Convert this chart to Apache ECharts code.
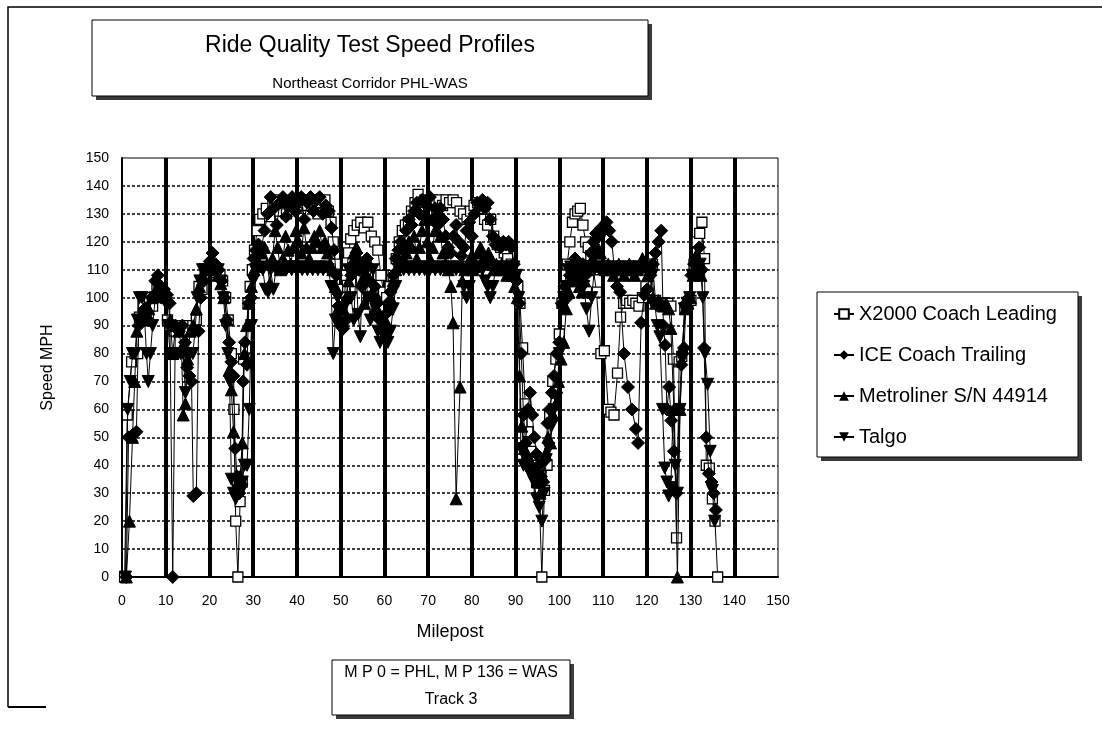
<!DOCTYPE html>
<html>
<head>
<meta charset="utf-8">
<script src="https://cdn.jsdelivr.net/npm/echarts@6/dist/echarts.min.js"></script>
<style>
html,body{margin:0;padding:0;background:#fff;}
#chart{width:1102px;height:736px;}
</style>
</head>
<body>
<div id="chart"></div>
<script>
// ---- data: [milepost, speed mph] ----
const seriesNames = ['X2000 Coach Leading', 'ICE Coach Trailing', 'Metroliner S/N 44914', 'Talgo'];

const x2000 = [[0.6,0],[1.2,58],[2.2,77],[3,80],[3.6,80],[4,93],[4.8,97],[5.5,94],[6.3,100],[7,97],[8,104],[9,102],[9.8,100],[10.4,92],[11,90],[12,88],[12.8,90],[13.6,89],[14.5,90],[15.3,88],[16.2,90],[17,92],[17.6,104],[18.3,103],[19,110],[20,111],[20.8,110],[21.6,109],[22.4,108],[23,106],[23.7,100],[24.3,92],[25,80],[25.6,60],[26,20],[26.5,0],[27,27],[27.5,34],[27.8,78],[28.3,82],[28.8,98],[29.3,104],[29.8,110],[30.3,117],[30.9,124],[31.5,128],[32.2,130],[33,132],[33.8,129],[34.5,133],[35.3,135],[36,131],[36.8,134],[37.6,130],[38.4,133],[39.2,135],[40,132],[40.8,134],[41.6,135],[42.4,133],[43.2,135],[44,134],[44.8,130],[45.6,134],[46.4,135],[47.2,131],[47.8,127],[48.3,120],[48.8,112],[49.3,103],[49.8,95],[50.3,92],[50.8,100],[51.3,108],[51.8,116],[52.3,121],[53,124],[53.8,126],[54.6,127],[55.4,125],[56.2,127],[57,122],[57.8,120],[58.5,117],[59.2,108],[59.8,102],[60.5,100],[61.3,104],[62,108],[62.7,114],[63.4,120],[64.1,124],[64.8,126],[65.5,127],[66.2,131],[67,134],[67.7,137],[68.5,134],[69.3,135],[70.1,133],[70.9,135],[71.7,134],[72.5,135],[73.3,133],[74.1,135],[74.9,134],[75.7,135],[76.5,134],[77.3,131],[78.1,130],[78.9,128],[79.7,131],[80.5,133],[81.3,134],[82.1,132],[82.9,128],[83.6,126],[84.3,128],[85,122],[85.8,119],[86.6,118],[87.4,116],[88.2,114],[89,112],[89.8,108],[90.5,104],[91,98],[91.6,82],[92.2,62],[92.8,52],[93.5,45],[94.2,40],[94.8,34],[95.4,30],[96,0],[96.6,31],[97.2,40],[97.8,58],[98.5,70],[99.2,78],[100,87],[100.6,98],[101.2,104],[101.8,112],[102.4,120],[103,127],[103.6,130],[104.2,131],[104.8,132],[105.4,126],[106,120],[106.6,118],[107.2,115],[107.8,110],[108.5,102],[109.5,80],[110.3,81],[111.2,60],[111.8,59],[112.5,58],[113.3,73],[114,93],[114.7,98],[115.4,99],[116.1,98],[116.8,99],[117.5,98],[118.2,97],[119,100],[119.8,104],[120.5,110],[121.3,112],[122,99],[122.7,98],[123.4,97],[124.1,98],[124.8,98],[125.5,97],[126.1,78],[126.8,14],[127.4,77],[128,79],[128.7,96],[129.4,98],[130.1,99],[130.8,112],[131.5,120],[132.1,123],[132.6,127],[133.2,114],[133.6,40],[134.3,39],[135,28],[135.6,20],[136.2,0]];

const ice = [[1.0,0],[1.5,50],[2.5,51],[3.3,52],[3.8,90],[4.5,92],[5.2,96],[6,92],[6.8,100],[7.6,106],[8.2,108],[8.9,104],[9.6,103],[10.3,101],[10.9,98],[11.6,0],[12.2,90],[13,88],[13.8,90],[14.4,84],[14.9,75],[15.4,72],[15.9,70],[16.3,29],[17,30],[17.5,88],[18,100],[18.7,106],[19.4,110],[20.1,113],[20.7,116],[21.4,112],[22.1,110],[22.8,106],[23.4,100],[24,92],[24.5,84],[25,77],[25.5,72],[25.9,46],[26.3,36],[26.8,30],[27.3,33],[27.7,70],[28.1,84],[28.6,76],[29,98],[29.5,100],[30.1,114],[30.6,117],[31.2,119],[31.9,118],[32.6,124],[33.3,130],[34,136],[34.7,132],[35.4,126],[36.1,134],[36.8,136],[37.5,129],[38.2,133],[38.9,136],[39.6,131],[40.3,134],[41,136],[41.7,128],[42.4,134],[43.1,136],[43.8,131],[44.5,135],[45.2,136],[45.9,130],[46.6,133],[47.3,131],[47.9,125],[48.5,117],[49,108],[49.5,97],[50,90],[50.6,89],[51.2,92],[51.8,100],[52.4,108],[53,112],[53.6,116],[54.2,110],[54.8,104],[55.4,110],[56,114],[56.6,106],[57.2,100],[57.8,104],[58.4,98],[59,92],[59.6,88],[60.2,94],[60.8,98],[61.4,102],[62,108],[62.6,114],[63.2,117],[63.8,120],[64.4,118],[65,124],[65.6,128],[66.2,126],[66.8,131],[67.4,134],[68,130],[68.6,135],[69.2,129],[69.8,133],[70.4,136],[71,128],[71.6,132],[72.2,126],[72.8,132],[73.4,128],[74,122],[74.6,118],[75.2,116],[75.8,122],[76.4,126],[77,120],[77.6,115],[78.2,118],[78.8,124],[79.4,127],[80,122],[80.6,130],[81.2,134],[81.8,133],[82.4,135],[83,132],[83.6,134],[84.2,128],[84.8,122],[85.4,119],[86,120],[86.6,118],[87.2,120],[87.8,119],[88.4,120],[89,118],[89.6,112],[90.2,106],[90.8,98],[91.3,80],[91.8,58],[92.3,48],[92.8,60],[93.3,66],[93.8,58],[94.3,50],[94.8,44],[95.3,40],[95.8,36],[96.3,34],[96.8,42],[97.3,55],[97.8,60],[98.3,66],[98.8,72],[99.4,80],[100,84],[100.6,98],[101.2,104],[101.8,100],[102.4,108],[103,110],[103.6,114],[104.2,108],[104.8,106],[105.4,112],[106,108],[106.6,110],[107.2,116],[107.8,120],[108.4,123],[109,122],[109.6,125],[110.2,124],[110.8,127],[111.4,124],[112,120],[112.6,110],[113.2,104],[113.9,102],[114.8,80],[115.7,68],[116.6,60],[117.5,53],[118,48],[118.7,91],[119.4,101],[120.1,103],[120.8,108],[121.4,112],[122,116],[122.7,120],[123.3,124],[123.8,90],[124.2,83],[124.6,60],[125.1,68],[125.6,56],[126.2,45],[126.8,30],[127.4,60],[127.9,76],[128.5,82],[129,98],[129.6,100],[130.2,108],[130.8,112],[131.4,110],[132,118],[132.6,110],[133.1,82],[133.6,50],[134.2,37],[134.8,34],[135.3,30],[135.8,24]];

const metroliner = [[1.0,0],[1.7,20],[2.4,50],[2.9,70],[3.4,88],[4,92],[4.7,95],[5.4,92],[6.1,96],[6.8,100],[7.5,102],[8.3,104],[9,103],[9.7,101],[10.4,100],[11,92],[11.6,80],[12.3,90],[13,88],[13.6,82],[14,58],[14.5,62],[15,78],[15.6,88],[16.3,90],[17,96],[17.7,104],[18.4,108],[19.1,110],[19.8,112],[20.5,110],[21.2,110],[21.9,108],[22.6,105],[23.3,100],[24,92],[24.5,74],[25,67],[25.5,52],[26,32],[26.5,34],[27,36],[27.5,48],[28,80],[28.5,90],[29,98],[29.6,104],[30.2,110],[30.8,113],[31.4,112],[32,116],[32.6,118],[33.2,112],[33.8,105],[34.4,114],[35,124],[35.6,118],[36.2,110],[36.8,114],[37.4,122],[38,117],[38.6,112],[39.2,118],[39.8,124],[40.4,120],[41,116],[41.6,125],[42.2,118],[42.8,114],[43.4,118],[44,122],[44.6,120],[45.2,124],[45.8,118],[46.4,120],[47,116],[47.6,112],[48.2,110],[48.8,104],[49.4,96],[50,92],[50.6,96],[51.2,100],[51.8,106],[52.4,112],[53,116],[53.6,118],[54.2,114],[54.8,106],[55.4,98],[56,108],[56.6,112],[57.2,102],[57.8,96],[58.4,100],[59,94],[59.6,90],[60.2,92],[60.8,96],[61.4,100],[62,106],[62.6,110],[63.2,114],[63.8,118],[64.4,114],[65,116],[65.6,120],[66.2,118],[66.8,122],[67.4,114],[68,118],[68.6,124],[69.2,128],[69.8,120],[70.4,114],[71,118],[71.6,124],[72.2,130],[72.8,122],[73.4,116],[74,112],[74.6,110],[75.2,104],[75.7,91],[76.4,28],[77.3,68],[77.8,106],[78.4,110],[79,112],[79.6,114],[80.2,110],[80.8,112],[81.4,116],[82,118],[82.6,114],[83.2,112],[83.8,116],[84.4,114],[85,110],[85.6,112],[86.2,110],[86.8,112],[87.4,110],[88,108],[88.6,110],[89.2,108],[89.8,104],[90.4,100],[90.9,72],[91.4,54],[92,46],[92.6,44],[93.2,42],[93.8,40],[94.4,38],[95,34],[95.6,30],[96.2,36],[96.8,44],[97.4,50],[98,48],[98.6,58],[99.2,62],[99.8,70],[100.4,78],[101,84],[101.6,96],[102.2,102],[102.8,106],[103.4,110],[104,108],[104.6,104],[105.2,102],[105.8,106],[106.4,110],[107,112],[107.6,114],[108.2,116],[108.8,118],[109.4,116],[110,112],[110.6,110],[111.2,112],[111.8,110],[112.4,108],[113,110],[113.6,112],[114.2,110],[114.8,108],[115.4,110],[116,112],[116.6,110],[117.2,108],[117.8,110],[118.4,112],[119,114],[119.6,112],[120.2,108],[120.8,110],[121.4,100],[122,98],[122.6,99],[123.2,98],[123.8,97],[124.4,98],[125,96],[125.5,89],[126.2,60],[127,0],[127.6,60],[128.2,82],[128.8,96],[129.4,98],[130,100],[130.6,108],[131.2,115],[131.8,112],[132.4,108]];

const talgo = [[0.8,0],[1.3,60],[1.9,70],[2.4,80],[3,80],[3.5,92],[4,100],[4.6,100],[5.1,94],[5.6,80],[6,70],[6.5,80],[7,90],[7.6,100],[8.2,100],[8.8,100],[9.4,100],[10,98],[10.5,90],[11,80],[11.6,80],[12.2,80],[12.8,80],[13.4,80],[14,80],[14.5,66],[15,80],[15.6,80],[16.2,80],[16.7,88],[17.2,100],[17.8,106],[18.4,110],[19,110],[19.6,110],[20.2,110],[20.8,110],[21.4,110],[22,110],[22.6,106],[23.2,100],[23.7,90],[24.2,80],[24.6,70],[25,35],[25.5,30],[26,28],[26.5,31],[27,30],[27.5,34],[28,40],[28.6,40],[29.1,60],[29.6,90],[30,106],[30.5,110],[31,110],[31.6,111],[32.2,110],[32.8,103],[33.4,102],[34,110],[34.6,103],[35.2,110],[35.8,111],[36.4,110],[37,111],[37.6,110],[38.2,111],[38.8,110],[39.4,111],[40,110],[40.6,111],[41.2,110],[41.8,111],[42.4,110],[43,111],[43.6,110],[44.2,111],[44.8,110],[45.4,111],[46,110],[46.6,111],[47.2,110],[47.8,104],[48.3,80],[48.8,92],[49.3,100],[49.8,90],[50.3,88],[50.8,90],[51.3,98],[51.8,110],[52.4,100],[53,92],[53.5,110],[54,94],[54.5,86],[55,110],[55.6,110],[56.2,100],[56.8,92],[57.4,110],[58,96],[58.5,88],[59,84],[59.6,92],[60.2,86],[60.8,84],[61.4,88],[62,96],[62.6,104],[63.2,110],[63.8,111],[64.4,110],[65,111],[65.6,110],[66.2,111],[66.8,110],[67.4,111],[68,110],[68.6,111],[69.2,110],[69.8,111],[70.4,110],[71,111],[71.6,110],[72.2,111],[72.8,110],[73.4,111],[74,110],[74.6,111],[75.2,110],[75.8,111],[76.4,110],[77,111],[77.6,110],[78.2,104],[78.8,100],[79.4,104],[80,110],[80.6,111],[81.2,110],[81.8,111],[82.4,110],[83,106],[83.6,104],[84.2,100],[84.8,104],[85.4,110],[86,111],[86.6,110],[87.2,111],[87.8,110],[88.4,111],[89,110],[89.6,111],[90.2,108],[90.7,100],[91.2,46],[91.8,40],[92.4,42],[93,38],[93.6,36],[94.2,34],[94.8,28],[95.4,25],[96,20],[96.5,30],[97,42],[97.6,46],[98.2,54],[98.8,60],[99.4,64],[100,80],[100.5,96],[101,100],[101.5,104],[102,110],[102.6,111],[103.2,110],[103.8,111],[104.4,110],[105,111],[105.6,104],[106.2,96],[106.8,88],[107.4,100],[108,110],[108.6,111],[109.2,110],[109.8,111],[110.4,110],[111,111],[111.6,110],[112.2,111],[112.8,110],[113.4,111],[114,110],[114.6,111],[115.2,110],[115.8,111],[116.4,110],[117,111],[117.6,110],[118.2,111],[118.8,110],[119.4,111],[120,110],[120.6,111],[121.2,108],[121.8,98],[122.4,90],[123,86],[123.6,60],[124.1,39],[124.6,34],[125,29],[125.5,32],[126,59],[126.5,40],[127,30],[127.6,60],[128.1,78],[128.6,96],[129.2,98],[129.8,100],[130.4,108],[131,111],[131.6,110],[132.2,112],[132.8,100],[133.3,80],[133.9,69],[134.5,45],[135,31],[135.5,20]];

const axisMin = 0, axisMax = 150, axisStep = 10;

const FONT = 'Liberation Sans, Arial, sans-serif';
const chart = echarts.init(document.getElementById('chart'), null, {renderer: 'canvas'});

function boxWithShadow(x, y, w, h) {
  return [
    {type: 'rect', shape: {x: x + 4, y: y + 4, width: w, height: h}, style: {fill: '#3a3a3a'}, silent: true},
    {type: 'rect', shape: {x: x, y: y, width: w, height: h}, style: {fill: '#fff', stroke: '#000', lineWidth: 1}, silent: true}
  ];
}

const lineCommon = {
  type: 'line',
  showAllSymbol: true,
  lineStyle: {color: '#000', width: 1},
  emphasis: {disabled: true},
  animation: false
};

const option = {
  backgroundColor: '#fff',
  animation: false,
  textStyle: {fontFamily: FONT, color: '#000'},
  grid: {left: 122, top: 158, right: 324, bottom: 159, show: true, borderColor: '#000', borderWidth: 1, backgroundColor: 'transparent'},
  xAxis: {
    type: 'value', min: axisMin, max: axisMax, interval: axisStep,
    name: 'Milepost', nameLocation: 'middle', nameGap: 46,
    nameTextStyle: {fontSize: 18, color: '#000', fontFamily: FONT},
    axisLine: {show: true, lineStyle: {color: '#000', width: 2}},
    axisTick: {show: false},
    axisLabel: {color: '#000', fontSize: 14, fontFamily: FONT, margin: 17},
    splitLine: {show: true, showMinLine: false, showMaxLine: false, lineStyle: {color: '#000', width: 4, type: 'solid'}}
  },
  yAxis: {
    type: 'value', min: axisMin, max: axisMax, interval: axisStep,
    name: 'Speed MPH', nameLocation: 'middle', nameGap: 66,
    nameTextStyle: {fontSize: 16, color: '#000', fontFamily: FONT},
    axisLine: {show: true, lineStyle: {color: '#000', width: 2}},
    axisTick: {show: false},
    axisLabel: {color: '#000', fontSize: 14, fontFamily: FONT, margin: 13},
    splitLine: {show: true, showMinLine: false, showMaxLine: false, lineStyle: {color: '#000', width: 1.5, type: [3, 2]}}
  },
  legend: {
    orient: 'vertical', left: 828, top: 299,
    itemGap: 21, itemWidth: 20, itemHeight: 12,
    textStyle: {fontSize: 20, color: '#000', fontFamily: FONT},
    data: seriesNames,
    selectedMode: false
  },
  graphic: [
    {type: 'polyline', shape: {points: [[8, 707], [8, 7], [1102, 7]]}, style: {stroke: '#000', lineWidth: 1.5, fill: null}, silent: true},
    {type: 'line', shape: {x1: 8, y1: 707, x2: 46, y2: 707}, style: {stroke: '#000', lineWidth: 2}, silent: true},
    ...boxWithShadow(92, 20, 556, 76),
    {type: 'text', x: 370, y: 46, style: {text: 'Ride Quality Test Speed Profiles', font: 'normal 23px ' + FONT, fill: '#000', textAlign: 'center', textVerticalAlign: 'middle'}, silent: true},
    {type: 'text', x: 370, y: 84, style: {text: 'Northeast Corridor PHL-WAS', font: 'normal 15px ' + FONT, fill: '#000', textAlign: 'center', textVerticalAlign: 'middle'}, silent: true},
    ...boxWithShadow(817, 292, 261, 165),
    ...boxWithShadow(332, 660, 238, 55),
    {type: 'text', x: 451, y: 673, style: {text: 'M P 0 = PHL, M P 136 = WAS', font: 'normal 16px ' + FONT, fill: '#000', textAlign: 'center', textVerticalAlign: 'middle'}, silent: true},
    {type: 'text', x: 451, y: 700, style: {text: 'Track 3', font: 'normal 16px ' + FONT, fill: '#000', textAlign: 'center', textVerticalAlign: 'middle'}, silent: true}
  ],
  series: [
    Object.assign({}, lineCommon, {name: seriesNames[0], data: x2000, symbol: 'rect', symbolSize: 10,
      itemStyle: {color: '#fff', borderColor: '#000', borderWidth: 1.3}, z: 2}),
    Object.assign({}, lineCommon, {name: seriesNames[1], data: ice, symbol: 'diamond', symbolSize: 13,
      itemStyle: {color: '#000', borderColor: '#000'}, z: 3}),
    Object.assign({}, lineCommon, {name: seriesNames[2], data: metroliner, symbol: 'triangle', symbolSize: 12,
      itemStyle: {color: '#000', borderColor: '#000'}, z: 4}),
    Object.assign({}, lineCommon, {name: seriesNames[3], data: talgo, symbol: 'triangle', symbolRotate: 180, symbolSize: 12,
      itemStyle: {color: '#000', borderColor: '#000'}, z: 5})
  ]
};
chart.setOption(option);
</script>
</body>
</html>
